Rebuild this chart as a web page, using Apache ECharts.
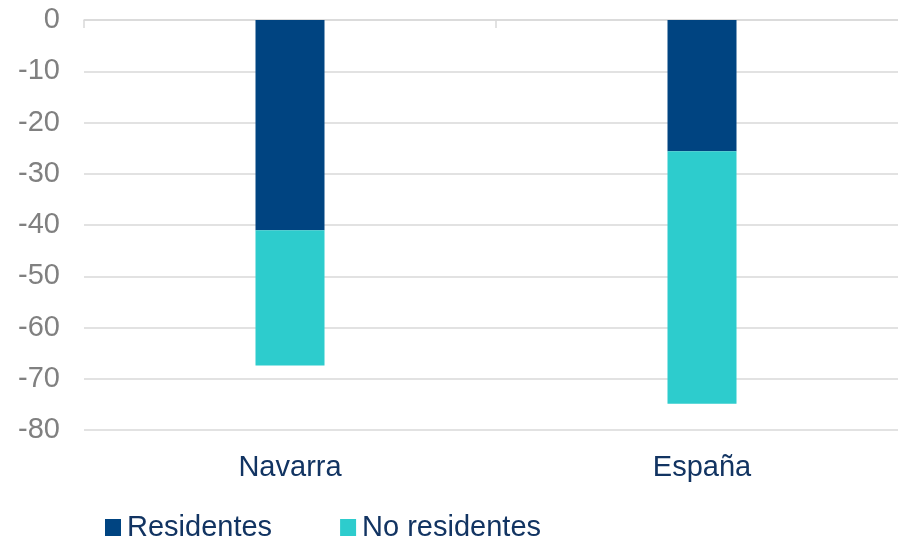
<!DOCTYPE html>
<html>
<head>
<meta charset="utf-8">
<script src="https://cdn.jsdelivr.net/npm/echarts@6/dist/echarts.min.js"></script>
<style>
html,body{margin:0;padding:0;background:#fff;}
#chart{width:898px;height:540px;}
</style>
</head>
<body>
<div id="chart"></div>
<script>
const categories = ['Navarra', 'España'];
const residentes = [-41.0, -25.6];
const noResidentes = [-26.4, -49.3];
const yTicks = { min: -80, max: 0, interval: 10 };

const chart = echarts.init(document.getElementById('chart'), null, { renderer: 'canvas' });
const font = 'Liberation Sans, Arial, sans-serif';
const navy = '#123462';
chart.setOption({
  animation: false,
  grid: { left: 84, width: 824, top: 20, height: 410, containLabel: false, outerBoundsMode: 'none' },
  legend: {
    left: 105, top: 513, padding: 0,
    itemWidth: 16, itemHeight: 17, itemGap: 68,
    icon: 'rect',
    textStyle: { fontFamily: font, fontSize: 29, color: navy, padding: [0, 0, 0, 1] },
    data: ['Residentes', 'No residentes']
  },
  xAxis: [
    {
      type: 'category', data: categories, position: 'bottom',
      axisLine: { show: false, onZero: false },
      axisTick: { show: false },
      axisLabel: { fontFamily: font, fontSize: 29, color: navy, margin: 23 }
    },
    {
      type: 'category', data: categories, position: 'top',
      axisLine: { show: true, lineStyle: { color: '#d9d9d9', width: 1.5 } },
      axisTick: { show: true, inside: true, length: 8, lineStyle: { color: '#d9d9d9', width: 1.5 } },
      axisLabel: { show: false }
    }
  ],
  yAxis: {
    type: 'value', min: yTicks.min, max: yTicks.max, interval: yTicks.interval,
    axisLine: { show: false }, axisTick: { show: false },
    axisLabel: { fontFamily: font, fontSize: 29, color: '#808080', margin: 24 },
    splitLine: { lineStyle: { color: '#d9d9d9', width: 1.5 } }
  },
  series: [
    { name: 'Residentes', type: 'bar', stack: 'total', data: residentes, barWidth: 69, itemStyle: { color: '#004481' } },
    { name: 'No residentes', type: 'bar', stack: 'total', data: noResidentes, barWidth: 69, itemStyle: { color: '#2dcccd' } }
  ]
});
</script>
</body>
</html>
